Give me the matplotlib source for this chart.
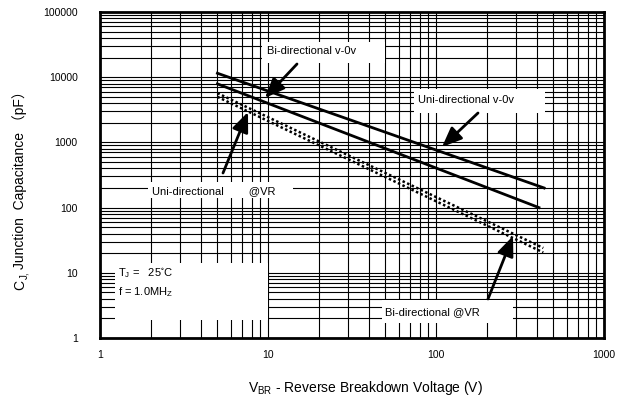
import matplotlib
matplotlib.use("Agg")
import matplotlib.pyplot as plt
from matplotlib.patches import Rectangle

plt.rcParams["font.family"] = ["Liberation Sans", "Noto Sans CJK SC", "DejaVu Sans"]

# curve end points (V, pF)
bi_v0_v = [5, 440]
bi_v0_c = [11500, 200]
uni_v0_v = [5, 410]
uni_v0_c = [7900, 100]
bi_vr_v = [5, 435]
bi_vr_c = [5700, 24]
uni_vr_v = [5, 435]
uni_vr_c = [5000, 20.5]

x_ticks = [1, 10, 100, 1000]
y_ticks = [1, 10, 100, 1000, 10000, 100000]

fig = plt.figure(figsize=(6.23, 4.01), dpi=100)
ax = fig.add_axes([100 / 623, 63 / 401, 504 / 623, 326 / 401])
ax.set_xscale("log")
ax.set_yscale("log")
ax.set_xlim(1, 1000)
ax.set_ylim(1, 100000)

ax.grid(True, which="both", color="black", lw=0.8, zorder=0)
ax.set_axisbelow(True)
for s in ax.spines.values():
    s.set_linewidth(2)
ax.tick_params(which="both", length=0)
ax.tick_params(axis="y", pad=16, labelsize=7.5)
ax.tick_params(axis="x", pad=9, labelsize=7.5)
ax.set_xticks(x_ticks)
ax.set_xticklabels([str(v) for v in x_ticks])
ax.set_yticks(y_ticks)
ax.set_yticklabels([str(v) for v in y_ticks])

# curves
ax.plot(bi_v0_v, bi_v0_c, color="black", lw=2, zorder=4)
ax.plot(uni_v0_v, uni_v0_c, color="black", lw=2, zorder=4)
ax.plot(bi_vr_v, bi_vr_c, color="black", lw=1.8, ls=(0, (1, 1)), zorder=4)
ax.plot(uni_vr_v, uni_vr_c, color="black", lw=1.8, ls=(0, (1, 1)), zorder=4)


def ax_xy(px, py):
    # pixel position in the figure -> axes fraction
    return (px - 100) / 504, (338 - py) / 326


def label(text, px, py, x0, x1, y0, y1, size=8):
    bx0, by0 = ax_xy(x0, y1)
    bx1, by1 = ax_xy(x1, y0)
    ax.add_patch(Rectangle((bx0, by0), bx1 - bx0, by1 - by0, transform=ax.transAxes,
                           facecolor="white", edgecolor="none", zorder=2))
    tx, ty = ax_xy(px, py)
    ax.text(tx, ty, text, transform=ax.transAxes, fontsize=size,
            ha="left", va="center", zorder=5)


def arrow(tail, tip):
    ax.annotate("", xy=ax_xy(*tip), xycoords="axes fraction",
                xytext=ax_xy(*tail), textcoords="axes fraction",
                arrowprops=dict(arrowstyle="-|>,head_length=1.2,head_width=0.5",
                                color="black", lw=2, shrinkA=0, shrinkB=0),
                zorder=6)


label("Bi-directional v-0v", 267, 51, 262, 385, 42, 63)
arrow((297, 64), (265, 98))

label("Uni-directional v-0v", 418, 100, 414, 545, 89, 113)
arrow((478, 113), (442, 147))

label("Uni-directional        @VR", 152, 191, 148, 293, 182, 198)
arrow((223, 173), (248, 112))

label("Bi-directional @VR", 385, 312, 382, 513, 300, 323)
arrow((488, 299), (513, 236))

label(r"T$_\mathregular{J}$ =   25$^\mathregular{\circ}$C", 118, 273, 115, 268, 263, 320)
label(r"f = 1.0MH$_\mathregular{Z}$", 118, 292, 115, 115, 263, 263)

fig.text(365 / 623, 1 - 388 / 401,
         r"V$_\mathregular{BR}$ - Reverse Breakdown Voltage (V)",
         ha="center", va="center", fontsize=10)

# y label built from pieces: C, subscript "J,", then plain text (CJK fallback)
W, H = 623, 401
rend = fig.canvas.get_renderer()
ykw = dict(ha="left", va="baseline", rotation=90, rotation_mode="anchor")
c_txt = fig.text(24 / W, 1 - 290 / H, "C", fontsize=10, **ykw)
y_top = c_txt.get_window_extent(rend).y1
j_txt = fig.text(27 / W, y_top / H + 0.002, "J,", fontsize=7, **ykw)
y_top = j_txt.get_window_extent(rend).y1
fig.text(24 / W, y_top / H + 0.006, "Junction  Capacitance （pF）",
         fontsize=10, **ykw)

fig.savefig("out.png", dpi=100)
